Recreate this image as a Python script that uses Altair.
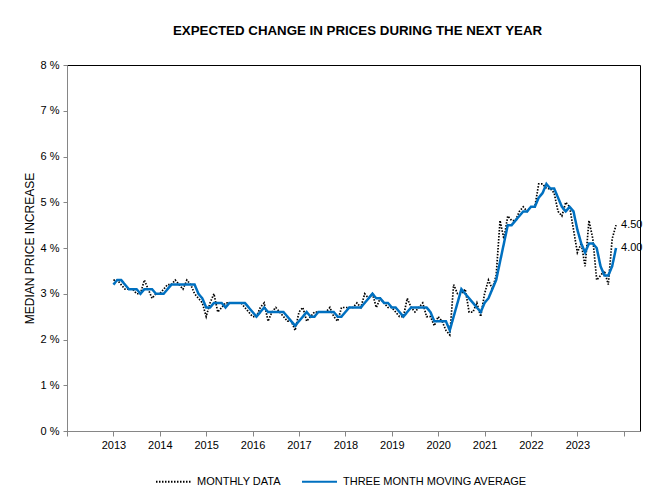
import altair as alt
import pandas as pd

# ---- data (University of Michigan survey, median expected price change, %) ----
start_year = 2013
series_names = ["MONTHLY DATA", "THREE MONTH MOVING AVERAGE"]

monthly_data = [
    3.3, 3.3, 3.2, 3.1, 3.1, 3.1, 3.0, 3.0, 3.3, 3.1, 2.9, 3.0,   # 2013
    3.0, 3.1, 3.2, 3.2, 3.3, 3.2, 3.1, 3.3, 3.2, 3.0, 2.9, 2.8,   # 2014
    2.5, 2.8, 3.0, 2.6, 2.7, 2.8, 2.8, 2.8, 2.8, 2.8, 2.7, 2.6,   # 2015
    2.5, 2.5, 2.7, 2.8, 2.4, 2.6, 2.7, 2.6, 2.5, 2.4, 2.4, 2.2,   # 2016
    2.6, 2.7, 2.4, 2.5, 2.6, 2.6, 2.6, 2.6, 2.7, 2.5, 2.4, 2.7,   # 2017
    2.7, 2.7, 2.7, 2.8, 2.7, 3.0, 2.9, 3.0, 2.7, 2.9, 2.8, 2.7,   # 2018
    2.7, 2.6, 2.5, 2.5, 2.9, 2.7, 2.6, 2.7, 2.8, 2.5, 2.5, 2.3,   # 2019
    2.5, 2.4, 2.2, 2.1, 3.2, 3.0, 3.0, 3.1, 2.6, 2.6, 2.8, 2.5,   # 2020
    3.0, 3.3, 3.1, 3.4, 4.6, 4.2, 4.7, 4.6, 4.6, 4.8, 4.9, 4.8,   # 2021
    4.9, 4.9, 5.4, 5.4, 5.3, 5.3, 5.2, 4.8, 4.7, 5.0, 4.9, 4.4,   # 2022
    3.9, 4.1, 3.6, 4.6, 4.2, 3.3, 3.4, 3.5, 3.2, 4.2, 4.5,        # 2023
]

moving_average = [
    3.2, 3.3, 3.3, 3.2, 3.1, 3.1, 3.1, 3.0, 3.1, 3.1, 3.1, 3.0,   # 2013
    3.0, 3.0, 3.1, 3.2, 3.2, 3.2, 3.2, 3.2, 3.2, 3.2, 3.0, 2.9,   # 2014
    2.7, 2.7, 2.8, 2.8, 2.8, 2.7, 2.8, 2.8, 2.8, 2.8, 2.8, 2.7,   # 2015
    2.6, 2.5, 2.6, 2.7, 2.6, 2.6, 2.6, 2.6, 2.6, 2.5, 2.4, 2.3,   # 2016
    2.4, 2.5, 2.6, 2.5, 2.5, 2.6, 2.6, 2.6, 2.6, 2.6, 2.5, 2.5,   # 2017
    2.6, 2.7, 2.7, 2.7, 2.7, 2.8, 2.9, 3.0, 2.9, 2.9, 2.8, 2.8,   # 2018
    2.7, 2.7, 2.6, 2.5, 2.6, 2.7, 2.7, 2.7, 2.7, 2.7, 2.6, 2.4,   # 2019
    2.4, 2.4, 2.4, 2.2, 2.5, 2.8, 3.1, 3.0, 2.9, 2.8, 2.7, 2.6,   # 2020
    2.8, 2.9, 3.1, 3.3, 3.7, 4.1, 4.5, 4.5, 4.6, 4.7, 4.8, 4.8,   # 2021
    4.9, 4.9, 5.1, 5.2, 5.4, 5.3, 5.3, 5.1, 4.9, 4.8, 4.9, 4.8,   # 2022
    4.4, 4.1, 3.9, 4.1, 4.1, 4.0, 3.6, 3.4, 3.4, 3.6, 4.0,        # 2023
]

tick_years = list(range(2012, 2025))
y_ticks = list(range(0, 9))

# ---- long table built from the arrays ----
rows = []
for name, vals in zip(series_names, [monthly_data, moving_average]):
    for i, v in enumerate(vals):
        rows.append({"t": start_year + i / 12.0, "value": v, "series": name})
df = pd.DataFrame(rows)

label_df = pd.DataFrame([
    {"t": start_year + (len(monthly_data) - 1) / 12.0, "value": monthly_data[-1], "series": series_names[0]},
    {"t": start_year + (len(moving_average) - 1) / 12.0, "value": moving_average[-1], "series": series_names[1]},
])

FONT = "Liberation Sans"
AXIS_GRAY = "#868686"

x_enc = alt.X(
    "t:Q",
    scale=alt.Scale(domain=[2012, 2024.35], nice=False, zero=False),
    axis=alt.Axis(
        values=tick_years,
        labelExpr="datum.value >= 2013 && datum.value <= 2023 ? format(datum.value, 'd') : ''",
        title=None, grid=False, domainColor=AXIS_GRAY, tickColor=AXIS_GRAY,
        tickSize=5, labelFontSize=11, labelColor="black", labelPadding=3,
        labelFont=FONT, labelFlush=False, labelOverlap=False,
    ),
)
y_enc = alt.Y(
    "value:Q",
    scale=alt.Scale(domain=[0, 8], nice=False),
    axis=alt.Axis(
        values=y_ticks, labelExpr="datum.value + ' %'",
        title="MEDIAN PRICE INCREASE", titleFontSize=12, titleFontWeight="normal",
        titleFont=FONT, titleColor="black", titlePadding=4,
        grid=False, domainColor=AXIS_GRAY, tickColor=AXIS_GRAY, tickSize=4,
        labelPadding=4, labelFontSize=11, labelColor="black", labelFont=FONT,
    ),
)

legend_opts = dict(
    title=None, orient="none", legendX=88, legendY=398, direction="horizontal",
    symbolType="stroke", symbolSize=1225, symbolStrokeWidth=2,
    labelFontSize=11, labelFont=FONT, labelColor="black", labelLimit=400,
    columnPadding=17, labelOffset=5,
)

color_enc = alt.Color(
    "series:N",
    scale=alt.Scale(domain=series_names, range=["#000000", "#0070C0"]),
    legend=alt.Legend(**legend_opts),
)
dash_enc = alt.StrokeDash(
    "series:N",
    scale=alt.Scale(domain=series_names, range=[[1.5, 1.5], [1, 0]]),
    legend=alt.Legend(**legend_opts),
)

base = alt.Chart(df).encode(x=x_enc, y=y_enc, color=color_enc, strokeDash=dash_enc)

monthly_line = base.transform_filter(alt.datum.series == series_names[0]).mark_line(strokeWidth=1.7)
ma_line = base.transform_filter(alt.datum.series == series_names[1]).mark_line(strokeWidth=2.5)

end_labels = alt.Chart(label_df).mark_text(
    align="left", baseline="middle", dx=5, fontSize=11, font=FONT, color="black"
).encode(x="t:Q", y="value:Q", text=alt.Text("value:Q", format=".2f"))

chart = alt.layer(monthly_line, ma_line, end_labels).properties(
    width=573, height=366,
    padding={"left": 59, "top": 57, "right": 14, "bottom": 56},
    autosize=alt.AutoSizeParams(type="none"),
    background="white",
    title=alt.TitleParams(
        "EXPECTED CHANGE IN PRICES DURING THE NEXT YEAR",
        fontSize=13.3, fontWeight="bold", font=FONT, color="black",
        anchor="middle", dx=4, offset=22,
    ),
).configure_view(stroke="#000000", strokeWidth=1)

chart.save("out.html", embed_options={"renderer": "svg", "actions": False})
